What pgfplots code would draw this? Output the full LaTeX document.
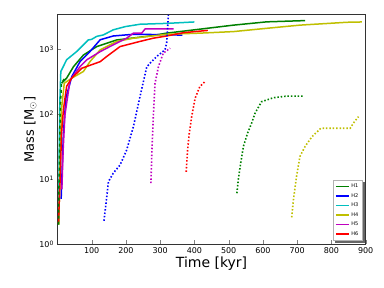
\documentclass[border=0pt]{standalone}
\usepackage{pgfplots}
\pgfplotsset{compat=1.18}
\usepackage{fontspec}
\setmainfont{DejaVu Sans}
\definecolor{mgreen}{rgb}{0,0.5,0}
\definecolor{mcyan}{rgb}{0,0.75,0.75}
\definecolor{myellow}{rgb}{0.75,0.75,0}
\definecolor{mmag}{rgb}{0.75,0,0.75}
\begin{document}
\begin{tikzpicture}
\path[use as bounding box] (-57.4pt,-43.7pt) rectangle (326.6pt,244.3pt);
\begin{axis}[
  scale only axis, width=308.3pt, height=230pt,
  at={(0pt,0pt)}, anchor=south west,
  ymode=log, xmin=0, xmax=900, ymin=1, ymax=3450,
  xtick={100,200,300,400,500,600,700,800,900},
  ytick={1,10,100,1000},
  yticklabels={10\textsuperscript{0},10\textsuperscript{1},10\textsuperscript{2},10\textsuperscript{3}},
  log basis y=10,
  /pgf/number format/assume math mode=true,
  tick label style={font=\fontsize{8}{9}\selectfont},
  xticklabel style={/pgf/number format/.cd, 1000 sep={}},
  tick align=inside, xtick pos=bottom, ytick pos=left,
  major tick length=4pt, minor tick length=2pt,
  axis line style={black!80, line width=0.8pt},
  xlabel={Time [kyr]}, ylabel={Mass [M$_\odot$]},
  xlabel style={font=\fontsize{14}{16}\selectfont, yshift=4pt},
  ylabel style={font=\fontsize{13}{15}\selectfont, yshift=-4pt},
  legend style={name=myleg, at={(0.99,0.015)}, anchor=south east, font=\fontsize{5}{6}\selectfont,
    draw=black!30, fill=white, row sep=0.3pt, inner sep=2pt},
  legend cell align=left,
  legend image code/.code={\draw[#1, line width=1.3pt, solid] (0pt,0pt) -- (13pt,0pt);},
  every axis plot/.append style={line width=1.5pt},
  mydot/.style={line width=1.6pt, dash pattern=on 1.5pt off 1.9pt},
]
% H1 solid
\addplot[mgreen] coordinates {(12,300) (27,360) (47,540) (76,815) (115,1100) (173,1390) (270,1600) (319,1770) (417,2040) (514,2350) (611,2640) (723,2760)};
\addlegendentry{H1}
\addplot[blue] coordinates {(11,5) (14,15) (17.5,51) (25,180) (42,380) (66,645) (95,920) (125,1400) (163,1600) (222,1700) (300,1680) (365,1650)};
\addlegendentry{H2}
\addplot[mcyan] coordinates {(4,2) (5,20) (7,150) (10,455) (27,690) (56,920) (90,1390) (100,1420) (115,1580) (134,1660) (163,1990) (198,2230) (241,2425) (319,2500) (400,2630)};
\addlegendentry{H3}
\addplot[myellow] coordinates {(4,2) (8,20) (12,120) (20,300) (42,360) (76,455) (95,645) (125,980) (173,1320) (222,1480) (319,1700) (417,1770) (514,1870) (611,2100) (708,2350) (845,2600) (889,2630)};
\addlegendentry{H4}
\addplot[mmag] coordinates {(13,7) (17,30) (22,98) (37,335) (66,540) (86,690) (125,920) (163,1170) (202,1480) (222,1770) (246,1770) (256,2050) (339,2050)};
\addlegendentry{H5}
\addplot[red] coordinates {(3,2.1) (8,10) (12,50) (17.5,117) (27,270) (42,360) (71,510) (125,645) (144,775) (183,1100) (241,1320) (280,1480) (319,1600) (368,1800) (439,1950)};
\addlegendentry{H6}
% H1 early dashed
\addplot[mgreen, dashed, forget plot] coordinates {(3,2) (5,10) (7,50) (9,150) (12,300) (20,350)};
% dotted series
\addplot[blue, mydot, forget plot] coordinates {(136,2.3) (142,4.3) (149,9.2) (163,12.4) (183,16.6) (202,28) (222,65) (241,186) (261,540) (290,775) (314,980) (319,1240) (324,3380)};
\addplot[mmag, mydot, forget plot] coordinates {(273,8.7) (276,28) (280,92) (285,300) (295,540) (309,870) (329,1040)};
\addplot[red, mydot, forget plot] coordinates {(376,13) (380,28) (385,51) (392,92) (402,176) (416,268) (433,325)};
\addplot[mgreen, mydot, forget plot] coordinates {(524,6.1) (528,9.8) (535,17.6) (543,32) (555,51) (567,73) (577,104) (596,156) (631,180) (669,190) (718,190)};
\addplot[myellow, mydot, forget plot] coordinates {(684,2.6) (689,4.8) (698,11) (708,22.4) (723,32) (743,45) (769,61) (806,61) (855,61) (864,73) (879,92)};
\end{axis}
\fill[black!60] ([xshift=0pt,yshift=-2pt]myleg.north east) rectangle ([xshift=2pt,yshift=-2pt]myleg.south east);
\fill[black!60] ([xshift=2pt,yshift=0pt]myleg.south west) rectangle ([xshift=2pt,yshift=-2pt]myleg.south east);
\end{tikzpicture}
\end{document}
